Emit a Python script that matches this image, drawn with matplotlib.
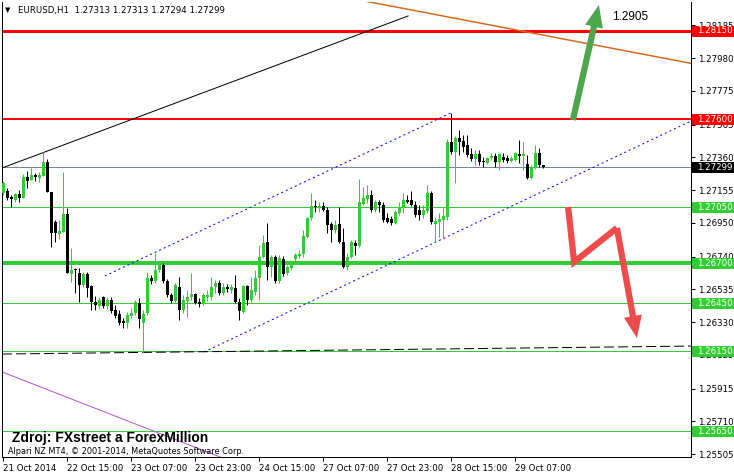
import matplotlib
matplotlib.use("Agg")
import numpy as np
import matplotlib.pyplot as plt
import matplotlib.transforms as mtransforms
from matplotlib.patches import Rectangle, FancyArrowPatch, ArrowStyle

# ------------------------------------------------------------------
# EURUSD H1 candles
opens = [
    1.27137, 1.27150, 1.27112, 1.27094, 1.27131, 1.27106, 1.27237, 1.27219, 1.27250, 1.27231,
    1.27244, 1.27331, 1.27144, 1.26956, 1.26881, 1.26894, 1.27006, 1.26631, 1.26662, 1.26637,
    1.26562, 1.26631, 1.26556, 1.26456, 1.26431, 1.26487, 1.26431, 1.26469, 1.26406, 1.26381,
    1.26337, 1.26325, 1.26369, 1.26387, 1.26450, 1.26325, 1.26387, 1.26606, 1.26587, 1.26656,
    1.26687, 1.26587, 1.26500, 1.26462, 1.26550, 1.26406, 1.26462, 1.26487, 1.26506, 1.26456,
    1.26450, 1.26487, 1.26487, 1.26550, 1.26575, 1.26512, 1.26550, 1.26531, 1.26544, 1.26456,
    1.26394, 1.26556, 1.26469, 1.26519, 1.26606, 1.26737, 1.26831, 1.26675, 1.26737, 1.26587,
    1.26725, 1.26637, 1.26669, 1.26725, 1.26744, 1.26756, 1.26862, 1.26981, 1.27056, 1.27050,
    1.27056, 1.27031, 1.26944, 1.26906, 1.26944, 1.26831, 1.26675, 1.26737, 1.26825, 1.26806,
    1.27069, 1.27100, 1.27125, 1.27031, 1.27081, 1.27062, 1.26981, 1.26975, 1.26950, 1.27012,
    1.27050, 1.27094, 1.27094, 1.27062, 1.27031, 1.27000, 1.27025, 1.27137, 1.26944, 1.26956,
    1.26969, 1.26987, 1.27456, 1.27394, 1.27481, 1.27462, 1.27437, 1.27381, 1.27350, 1.27381,
    1.27337, 1.27325, 1.27356, 1.27369, 1.27331, 1.27362, 1.27356, 1.27337, 1.27344, 1.27381,
    1.27369, 1.27319, 1.27231, 1.27294, 1.27387, 1.27313]
highs = [
    1.27212, 1.27169, 1.27125, 1.27137, 1.27156, 1.27256, 1.27275, 1.27294, 1.27262, 1.27269,
    1.27394, 1.27350, 1.27144, 1.26969, 1.26969, 1.27269, 1.27044, 1.26794, 1.26669, 1.26669,
    1.26644, 1.26644, 1.26562, 1.26494, 1.26487, 1.26494, 1.26487, 1.26487, 1.26437, 1.26406,
    1.26356, 1.26394, 1.26419, 1.26469, 1.26481, 1.26406, 1.26644, 1.26625, 1.26762, 1.26706,
    1.26700, 1.26600, 1.26512, 1.26575, 1.26612, 1.26500, 1.26531, 1.26637, 1.26512, 1.26481,
    1.26512, 1.26531, 1.26612, 1.26594, 1.26594, 1.26575, 1.26569, 1.26569, 1.26625, 1.26481,
    1.26562, 1.26562, 1.26612, 1.26656, 1.26812, 1.26875, 1.26950, 1.26750, 1.26750, 1.26750,
    1.26744, 1.26687, 1.26700, 1.26762, 1.26781, 1.26906, 1.26987, 1.27137, 1.27094, 1.27081,
    1.27081, 1.27050, 1.26956, 1.26969, 1.27050, 1.26919, 1.26762, 1.26844, 1.26844, 1.27225,
    1.27175, 1.27187, 1.27156, 1.27094, 1.27094, 1.27081, 1.27012, 1.26994, 1.27031, 1.27081,
    1.27137, 1.27125, 1.27150, 1.27087, 1.27062, 1.27062, 1.27187, 1.27150, 1.26987, 1.27012,
    1.27044, 1.27475, 1.27637, 1.27494, 1.27531, 1.27500, 1.27500, 1.27419, 1.27406, 1.27406,
    1.27362, 1.27362, 1.27387, 1.27387, 1.27387, 1.27387, 1.27375, 1.27369, 1.27394, 1.27469,
    1.27456, 1.27375, 1.27312, 1.27437, 1.27419, 1.27313]
lows = [
    1.27125, 1.27094, 1.27050, 1.27081, 1.27081, 1.27106, 1.27169, 1.27219, 1.27212, 1.27206,
    1.27244, 1.27144, 1.26800, 1.26831, 1.26850, 1.26894, 1.26637, 1.26581, 1.26512, 1.26456,
    1.26550, 1.26487, 1.26406, 1.26406, 1.26412, 1.26419, 1.26412, 1.26387, 1.26356, 1.26312,
    1.26294, 1.26294, 1.26356, 1.26375, 1.26294, 1.26137, 1.26375, 1.26569, 1.26575, 1.26644,
    1.26575, 1.26487, 1.26450, 1.26456, 1.26344, 1.26387, 1.26362, 1.26469, 1.26444, 1.26425,
    1.26437, 1.26462, 1.26469, 1.26512, 1.26500, 1.26500, 1.26519, 1.26512, 1.26450, 1.26344,
    1.26387, 1.26437, 1.26456, 1.26500, 1.26469, 1.26731, 1.26594, 1.26612, 1.26575, 1.26575,
    1.26619, 1.26625, 1.26656, 1.26706, 1.26731, 1.26737, 1.26856, 1.26969, 1.27019, 1.27019,
    1.27025, 1.26887, 1.26831, 1.26887, 1.26825, 1.26669, 1.26656, 1.26731, 1.26750, 1.26800,
    1.27062, 1.27075, 1.27019, 1.27019, 1.27019, 1.26956, 1.26950, 1.26937, 1.26944, 1.27000,
    1.27012, 1.27075, 1.27056, 1.26987, 1.26969, 1.26981, 1.27012, 1.26944, 1.26831, 1.26862,
    1.26856, 1.26969, 1.27381, 1.27200, 1.27375, 1.27394, 1.27362, 1.27337, 1.27312, 1.27312,
    1.27300, 1.27319, 1.27344, 1.27300, 1.27281, 1.27331, 1.27325, 1.27331, 1.27337, 1.27325,
    1.27281, 1.27225, 1.27225, 1.27287, 1.27300, 1.27294]
closes = [
    1.27200, 1.27106, 1.27100, 1.27131, 1.27106, 1.27237, 1.27212, 1.27250, 1.27237, 1.27250,
    1.27331, 1.27144, 1.26887, 1.26887, 1.26900, 1.27006, 1.26637, 1.26656, 1.26656, 1.26562,
    1.26631, 1.26544, 1.26456, 1.26437, 1.26469, 1.26431, 1.26469, 1.26400, 1.26369, 1.26325,
    1.26325, 1.26375, 1.26387, 1.26456, 1.26350, 1.26381, 1.26606, 1.26587, 1.26656, 1.26687,
    1.26587, 1.26500, 1.26462, 1.26562, 1.26406, 1.26469, 1.26487, 1.26506, 1.26450, 1.26444,
    1.26500, 1.26500, 1.26550, 1.26575, 1.26512, 1.26550, 1.26537, 1.26550, 1.26456, 1.26400,
    1.26556, 1.26469, 1.26531, 1.26606, 1.26737, 1.26825, 1.26675, 1.26737, 1.26587, 1.26731,
    1.26631, 1.26675, 1.26687, 1.26750, 1.26756, 1.26869, 1.26981, 1.27056, 1.27050, 1.27056,
    1.27031, 1.26937, 1.26906, 1.26937, 1.26831, 1.26675, 1.26737, 1.26831, 1.26806, 1.27081,
    1.27106, 1.27125, 1.27031, 1.27081, 1.27062, 1.26969, 1.26956, 1.26950, 1.27019, 1.27050,
    1.27094, 1.27081, 1.27062, 1.27000, 1.27000, 1.27031, 1.27137, 1.26956, 1.26962, 1.26975,
    1.26994, 1.27456, 1.27394, 1.27481, 1.27456, 1.27425, 1.27375, 1.27350, 1.27381, 1.27331,
    1.27331, 1.27356, 1.27369, 1.27331, 1.27381, 1.27344, 1.27337, 1.27356, 1.27387, 1.27369,
    1.27381, 1.27231, 1.27300, 1.27387, 1.27312, 1.27299]

time_labels = ["21 Oct 2014", "22 Oct 15:00", "23 Oct 07:00", "23 Oct 23:00", "24 Oct 15:00",
               "27 Oct 07:00", "27 Oct 23:00", "28 Oct 15:00", "29 Oct 07:00"]
bars_per_label = 16

price_ticks = [1.28185, 1.27980, 1.27775, 1.27565, 1.27360, 1.27155, 1.26950,
               1.26740, 1.26535, 1.26330, 1.26125, 1.25915, 1.25710, 1.25505]

red_levels = [1.28150, 1.27600]
green_levels = [1.27050, 1.26700, 1.26450, 1.26150, 1.25650]
target_text = "1.2905"

# ------------------------------------------------------------------
W, H = 734, 475
PX = 1 / 16000.0           # price per screen pixel
LW = 0.72                  # one pixel in points

plt.rcParams["font.family"] = ["DejaVu Sans"]
fig = plt.figure(figsize=(W / 100, H / 100), dpi=100)
ax = fig.add_axes([2 / W, 1 - 457 / H, 689 / W, 455 / H])
ax.set_xlim(-0.325, 171.925)
ax.set_ylim(1.2815 - 426 * PX, 1.2815 + 29 * PX)

o = np.array(opens); h = np.array(highs); l = np.array(lows); c = np.array(closes)
x = np.arange(len(o))
up = c >= o
col = np.where(up, "#32CD32", "#000000")

ax.vlines(x, l, h, colors=col, linewidth=LW, zorder=3)
ax.bar(x, np.maximum(np.abs(c - o), PX), bottom=np.minimum(o, c), width=0.75,
       color=col, linewidth=0, zorder=4)

# horizontal levels
ax.axhline(red_levels[0], color="#FF0000", lw=3 * LW, zorder=2)
ax.axhline(red_levels[1], color="#FF0000", lw=2 * LW, zorder=2)
for lev in green_levels:
    thick = lev == 1.26700
    ax.axhline(lev, color="#32CD32", lw=(4 if thick else 1) * LW, antialiased=thick, zorder=2)
ax.axhline(closes[-1], color="#778899", lw=LW, antialiased=False, zorder=2)

# trend lines (bar index, price)
ax.plot([-0.3, 101.2], [1.27294, 1.28244], color="black", lw=LW, zorder=2)
ax.plot([90.2, 172.5], [1.28338, 1.27945], color="#D2691E", lw=1.5 * LW, zorder=2)
ax.plot([25.4, 111.9], [1.26619, 1.27638], color="blue", lw=LW, ls=(0, (2, 3)), zorder=2)
ax.plot([50.2, 172.5], [1.26144, 1.27594], color="blue", lw=LW, ls=(0, (2, 3)), zorder=2)
ax.plot([-0.3, 172.5], [1.26131, 1.26181], color="black", lw=LW, ls=(0, (10, 4)), zorder=2)
ax.plot([-0.3, 56.0], [1.26019, 1.25470], color="#BA55D3", lw=LW, zorder=2)

# arrows
green_arrow = FancyArrowPatch((142.4, 1.27594), (148.9, 1.28313),
                              arrowstyle=ArrowStyle.Simple(head_length=16, head_width=13, tail_width=4.5),
                              mutation_scale=1, shrinkA=0, shrinkB=0, color="#4CA64C", lw=0, zorder=6)
ax.add_patch(green_arrow)
ax.plot([141.2, 142.7, 153.4], [1.27050, 1.26706, 1.26919], color="#EE4B4B", lw=4.5,
        solid_joinstyle="miter", solid_capstyle="butt", zorder=6)
red_arrow = FancyArrowPatch((153.4, 1.26919), (158.4, 1.26231),
                            arrowstyle=ArrowStyle.Simple(head_length=16, head_width=13, tail_width=4.5),
                            mutation_scale=1, shrinkA=0, shrinkB=0, color="#EE4B4B", lw=0, zorder=6)
ax.add_patch(red_arrow)
ax.text(152.2, 1.2815 + 14 * PX, target_text, fontsize=8.5, family="Liberation Sans",
        ha="left", va="center", zorder=7)

# axes styling
ax.spines["top"].set_visible(False)
for s in ["left", "right", "bottom"]:
    ax.spines[s].set_linewidth(LW)
ax.yaxis.tick_right()
ax.set_yticks(price_ticks)
ax.set_yticklabels([f"{v:.5f}" for v in price_ticks])
ax.set_xticks(np.arange(len(time_labels)) * bars_per_label)
ax.set_xticklabels(time_labels)
ax.tick_params(axis="both", direction="out", length=3, width=LW, labelsize=6.2, pad=2)
for t in ax.get_xticklabels():
    t.set_ha("left")

# price labels on the right scale
trans = mtransforms.blended_transform_factory(fig.transFigure, ax.transData)
boxes = [(red_levels[0], "#FF0000"), (red_levels[1], "#FF0000"), (closes[-1], "#000000")]
boxes += [(lev, "#32CD32") for lev in green_levels]
for lev, bc in boxes:
    ax.add_patch(Rectangle((692 / W, lev - 5.5 * PX), 42 / W, 11 * PX, transform=trans,
                           facecolor=bc, edgecolor="none", clip_on=False, zorder=10))
    ax.text(697 / W, lev, f"{lev:.5f}", transform=trans, color="white", fontsize=6.2,
            ha="left", va="center", clip_on=False, zorder=11)

# header and captions
fig.text(5 / W, 1 - 10 / H, "\u25bc", fontsize=5, va="center", ha="left")
fig.text(18 / W, 1 - 10 / H,
         f"EURUSD,H1  {opens[-1]:.5f} {highs[-1]:.5f} {lows[-1]:.5f} {closes[-1]:.5f}",
         fontsize=6.2, va="center", ha="left")
fig.text(12 / W, 1 - 438 / H, "Zdroj: FXstreet a ForexMillion", fontsize=10,
         family="Liberation Sans", weight="bold", va="center", ha="left")
fig.text(8 / W, 1 - 451 / H, "Alpari NZ MT4, \u00a9 2001-2014, MetaQuotes Software Corp.",
         fontsize=5.9, va="center", ha="left")

fig.savefig("out.png", dpi=100, facecolor="white")
